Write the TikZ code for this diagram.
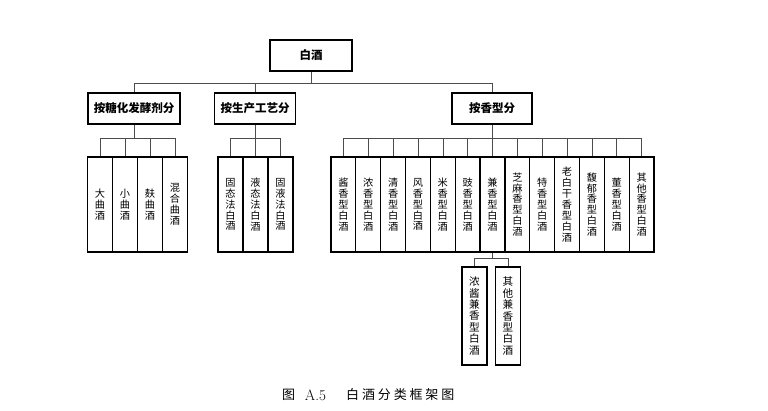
\documentclass[tikz,border=0pt]{standalone}
\usepackage{fontspec}
\newfontfamily\cjk{Noto Sans CJK SC}
\newfontfamily\capcjk[LetterSpace=22]{Noto Sans CJK SC}
\begin{document}
\begin{tikzpicture}[x=1pt,y=-1pt,
  topbox/.style={draw, line width=1.7pt, inner sep=0pt, minimum height=31pt,
    font=\cjk\bfseries\fontsize{11.5}{12}\selectfont},
  leaf/.style={draw, line width=1.3pt, inner sep=0pt, minimum width=24.85pt,
    minimum height=95pt, align=center, font=\cjk\fontsize{10.2}{10.9}\selectfont},
  subleaf/.style={leaf, line width=1.6pt, minimum width=25pt, minimum height=98pt,
    font=\cjk\fontsize{10.6}{11.4}\selectfont},
  conn/.style={line width=0.6pt, draw=black!70}]
\useasboundingbox (0,0) rectangle (768,411);

% levels
\coordinate (h1) at (0,83);
\coordinate (r1) at (0,138);
\coordinate (r2) at (0,258);

\node[topbox, minimum width=82pt] (root) at (311,55.5) {白酒};
\node[topbox, minimum width=92pt] (ka) at (134,108.5) {按糖化发酵剂分};
\node[topbox, minimum width=81pt] (kb) at (255,108.5) {按生产工艺分};
\node[topbox, minimum width=80pt] (kc) at (492,108.5) {按香型分};

\draw[conn] (root.south) -- (root.south |- h1);
\draw[conn] (ka.north) -- (ka.north |- h1) -- (kc.north |- h1) -- (kc.north);
\draw[conn] (kb.north) -- (kb.north |- h1);

% group 1
\foreach \t [count=\i from 0] in {{大\\曲\\酒},{小\\曲\\酒},{麸\\曲\\酒},{混\\合\\曲\\酒}}{
  \node[leaf, minimum width=25pt] (ga\i) at (100+25*\i,204.5) {\t};
  \draw[conn] (ga\i.north) -- (ga\i.north |- r1);
}
\draw[conn] (ka.south) -- (ka.south |- r1);
\draw[conn] (ga0.north |- r1) -- (ga3.north |- r1);

% group 2
\foreach \t [count=\i from 0] in {{固\\态\\法\\白\\酒},{液\\态\\法\\白\\酒},{固\\液\\法\\白\\酒}}{
  \node[leaf, minimum width=25pt] (gb\i) at (230.5+25*\i,204.5) {\t};
  \draw[conn] (gb\i.north) -- (gb\i.north |- r1);
}
\draw[conn] (kb.south) -- (kb.south |- r1);
\draw[conn] (gb0.north |- r1) -- (gb2.north |- r1);

% group 3
\foreach \t [count=\i from 0] in {{酱\\香\\型\\白\\酒},{浓\\香\\型\\白\\酒},{清\\香\\型\\白\\酒},{风\\香\\型\\白\\酒},{米\\香\\型\\白\\酒},{豉\\香\\型\\白\\酒},{兼\\香\\型\\白\\酒},{芝\\麻\\香\\型\\白\\酒},{特\\香\\型\\白\\酒},{老\\白\\干\\香\\型\\白\\酒},{馥\\郁\\香\\型\\白\\酒},{董\\香\\型\\白\\酒},{其\\他\\香\\型\\白\\酒}}{
  \node[leaf] (gc\i) at (343.4+24.85*\i,204.5) {\t};
  \draw[conn] (gc\i.north) -- (gc\i.north |- r1);
}
\draw[conn] (kc.south) -- (kc.south |- r1);
\draw[conn] (gc0.north |- r1) -- (gc12.north |- r1);

% sub-group under 兼香型白酒
\node[subleaf] (sa) at (474.5,316) {浓\\酱\\兼\\香\\型\\白\\酒};
\node[subleaf] (sb) at (508,316) {其\\他\\兼\\香\\型\\白\\酒};
\draw[conn] (gc6.south) -- (gc6.south |- r2);
\draw[conn] (sa.north) -- (sa.north |- r2) -- (sb.north |- r2) -- (sb.north);

% caption
\node[inner sep=0pt, font=\cjk\fontsize{13}{13}\selectfont] (capfig) at (288.5,395) {图};
\node[inner sep=0pt, font=\fontsize{15}{15}\selectfont] (capnum) at (315.5,395.5) {A.5};
\node[inner sep=0pt, anchor=west, font=\capcjk\fontsize{13}{13}\selectfont] (captitle) at (346,395) {白酒分类框架图};
\end{tikzpicture}
\end{document}
